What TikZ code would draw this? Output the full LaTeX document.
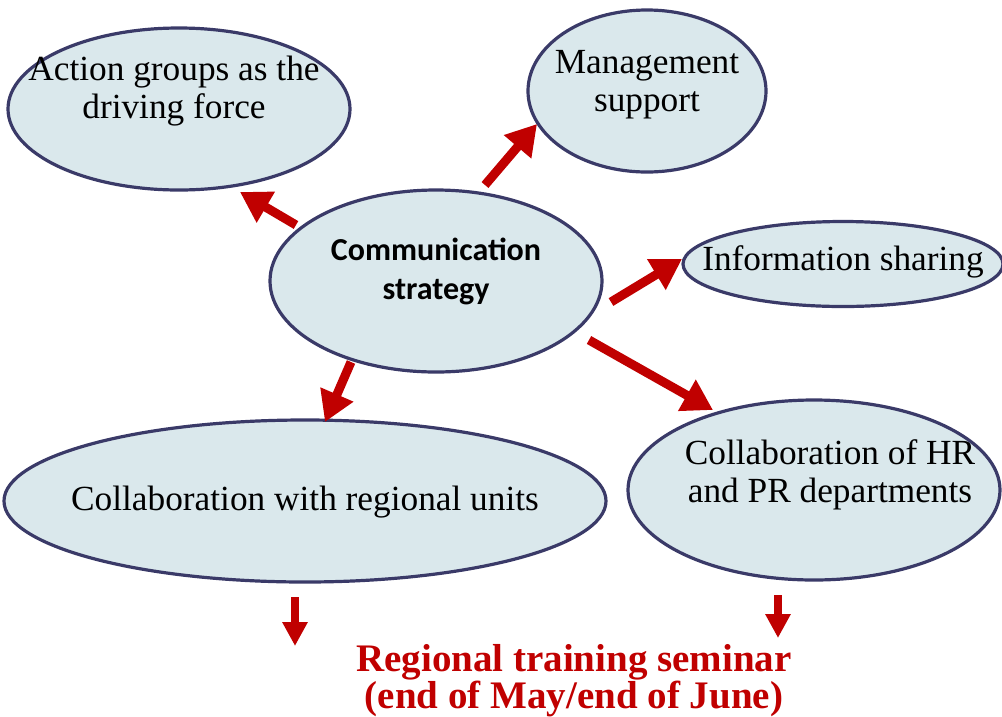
\documentclass[tikz,border=0pt]{standalone}
\usepackage{fontspec}
\setmainfont{Liberation Serif}
\newfontfamily\calib{Carlito}
\usetikzlibrary{shapes.geometric,arrows.meta}
\definecolor{bubble}{RGB}{218,232,236}
\definecolor{rim}{RGB}{58,58,104}
\definecolor{accent}{RGB}{192,0,0}
\begin{document}
\begin{tikzpicture}[x=1pt,y=-1pt,
  bubbleshape/.style={ellipse,draw=rim,line width=3.2pt,fill=bubble,inner sep=0pt},
  bubbletext/.style={font=\fontsize{35.3}{38}\selectfont,align=center,text=black},
  bigarrow/.style={draw=accent,line width=9pt,-{Triangle[length=30pt,width=34pt]}},
  droparrow/.style={draw=accent,line width=8pt,-{Triangle[length=24pt,width=24pt]}}]
\useasboundingbox (0,0) rectangle (1002,716);

% ellipses
\node[bubbleshape,minimum width=342pt,minimum height=162pt] (action) at (179,109) {};
\node[bubbleshape,minimum width=238pt,minimum height=162pt] (mgmt) at (647,91) {};
\node[bubbleshape,minimum width=332pt,minimum height=182pt] (comm) at (436,281) {};
\node[bubbleshape,minimum width=320pt,minimum height=85pt] (info) at (843,264) {};
\node[bubbleshape,minimum width=602pt,minimum height=162pt] (regional) at (305,501) {};
\node[bubbleshape,minimum width=372pt,minimum height=180pt] (hrpr) at (814,490) {};

% labels
\node[bubbletext] (actiontext) at (174,91) {Action groups as the\\driving force};
\node[bubbletext] (mgmttext) at (647,85) {Management\\support};
\node[font=\calib\bfseries\fontsize{32}{39}\selectfont,align=center] (commtext) at (436,271) {Communication\\strategy};
\node[bubbletext] (infotext) at (843,262) {Information sharing};
\node[bubbletext] (regionaltext) at (305,502) {Collaboration with regional units};
\node[bubbletext] (hrprtext) at (830,475) {Collaboration of HR\\and PR departments};

% arrow end points
\coordinate (a1) at (296,225); \coordinate (a2) at (240,192);
\coordinate (m1) at (485,185); \coordinate (m2) at (537,124);
\coordinate (i1) at (611,302); \coordinate (i2) at (682,259);
\coordinate (h1) at (589,340); \coordinate (h2) at (713,410);
\coordinate (r1) at (351,362); \coordinate (r2) at (325,422);
\coordinate (d1) at (295,597); \coordinate (d2) at (295,646);
\coordinate (e1) at (778,595); \coordinate (e2) at (778,638);

\draw[bigarrow] (a1) -- (a2);
\draw[bigarrow] (m1) -- (m2);
\draw[bigarrow] (i1) -- (i2);
\draw[bigarrow] (h1) -- (h2);
\draw[bigarrow] (r1) -- (r2);
\draw[droparrow] (d1) -- (d2);
\draw[droparrow] (e1) -- (e2);

\node[font=\bfseries\fontsize{39}{36}\selectfont,text=accent,align=center] (seminar) at (574,681) {Regional training seminar\\(end of May/end of June)};
\end{tikzpicture}
\end{document}
